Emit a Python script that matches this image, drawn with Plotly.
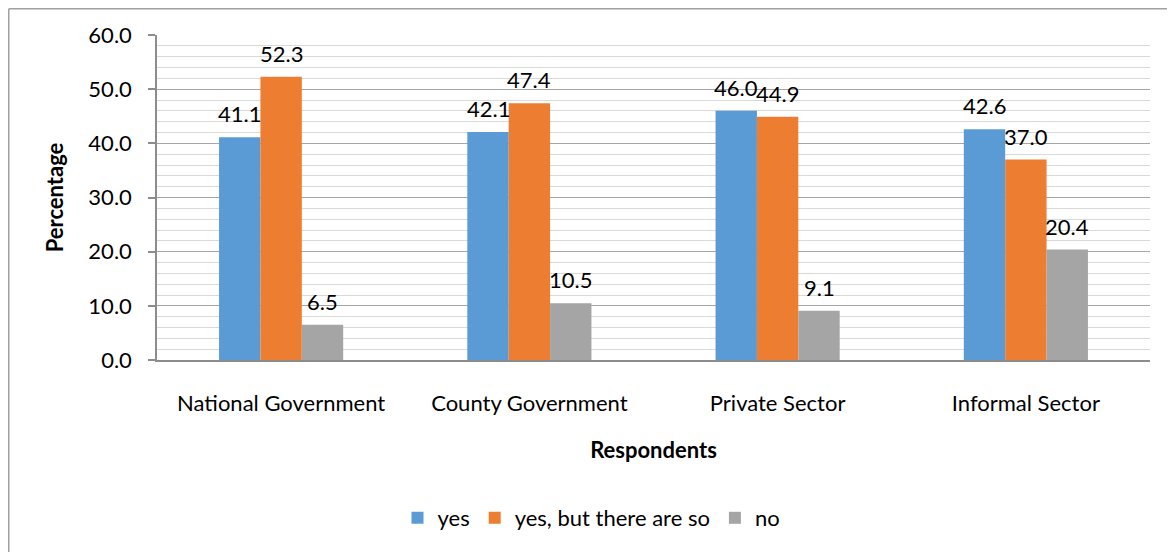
import plotly.graph_objects as go

categories = ["National Government", "County Government", "Private Sector", "Informal Sector"]
series_names = ["yes", "yes, but there are so", "no"]
yes_vals = [41.1, 42.1, 46.0, 42.6]
yes_but_vals = [52.3, 47.4, 44.9, 37.0]
no_vals = [6.5, 10.5, 9.1, 20.4]
colors = ["#5B9BD5", "#ED7D31", "#A5A5A5"]
y_ticks = [0, 10, 20, 30, 40, 50, 60]

FONT = "Lato, Carlito, Calibri, sans-serif"
FS = 22
OFF = 8  # page body margin
W, H = 1175 - OFF, 552 - OFF
L, R, T, B = 157 - OFF, 25, 35 - OFF, 192
pw, ph = W - L - R, H - T - B

fig = go.Figure()
all_vals = [yes_vals, yes_but_vals, no_vals]
for name, vals, col in zip(series_names, all_vals, colors):
    fig.add_trace(go.Bar(x=categories, y=vals, name=name, marker=dict(color=col, line=dict(width=0))))

# data labels
bar_w = pw / len(categories) * 0.5 / 3
for i, vals in enumerate(all_vals):
    for c, v in zip(categories, vals):
        fig.add_annotation(x=c, y=v, text=f"{v:.1f}", showarrow=False, xref="x", yref="y",
                           xshift=(i - 1) * bar_w, yshift=8, yanchor="bottom",
                           font=dict(family=FONT, size=FS, color="#000000"))

fig.update_layout(
    width=W, height=H,
    margin=dict(l=L, r=R, t=T, b=B, autoexpand=False),
    paper_bgcolor="white", plot_bgcolor="white",
    barmode="group", bargap=0.5, bargroupgap=0,
    font=dict(family=FONT, size=FS, color="#000000"),
    showlegend=True,
    legend=dict(orientation="h", x=0.5 - 62 / pw, xanchor="center", y=(352 - 510) / ph, yanchor="middle",
                font=dict(family=FONT, size=FS), itemwidth=30, traceorder="normal"),
)
fig.update_xaxes(
    showline=True, linecolor="#8C8C8C", linewidth=2, showgrid=False,
    ticks="", ticklabelstandoff=23, tickfont=dict(size=FS),
    title=dict(text="<b>Respondents</b>", font=dict(size=FS), standoff=27),
)
fig.update_yaxes(
    range=[0, 60], tickvals=y_ticks, ticktext=[f"{t:.1f}" for t in y_ticks],
    showline=True, linecolor="#8C8C8C", linewidth=1.5,
    ticks="outside", ticklen=7, tickcolor="#8C8C8C", tickwidth=1.5,
    ticklabelstandoff=12, tickfont=dict(size=FS),
    showgrid=True, gridcolor="#A6A6A6", gridwidth=1.2,
    minor=dict(dtick=2, showgrid=True, gridcolor="#D9D9D9", gridwidth=1.2, ticks=""),
    title=dict(text="<b>Percentage</b>", font=dict(size=FS), standoff=19),
    zeroline=False,
)

# outer border (left and top edges visible)
bx0 = (0.75 - L) / pw
by1 = 1 + (T - 0.75) / ph
fig.add_shape(type="line", xref="paper", yref="paper", x0=bx0, x1=bx0, y0=by1, y1=-B / ph - 0.01,
              line=dict(color="#A0A0A0", width=1.5))
fig.add_shape(type="line", xref="paper", yref="paper", x0=bx0, x1=1 + R / pw + 0.01, y0=by1, y1=by1,
              line=dict(color="#A0A0A0", width=1.5))

fig.write_html("out.html")
